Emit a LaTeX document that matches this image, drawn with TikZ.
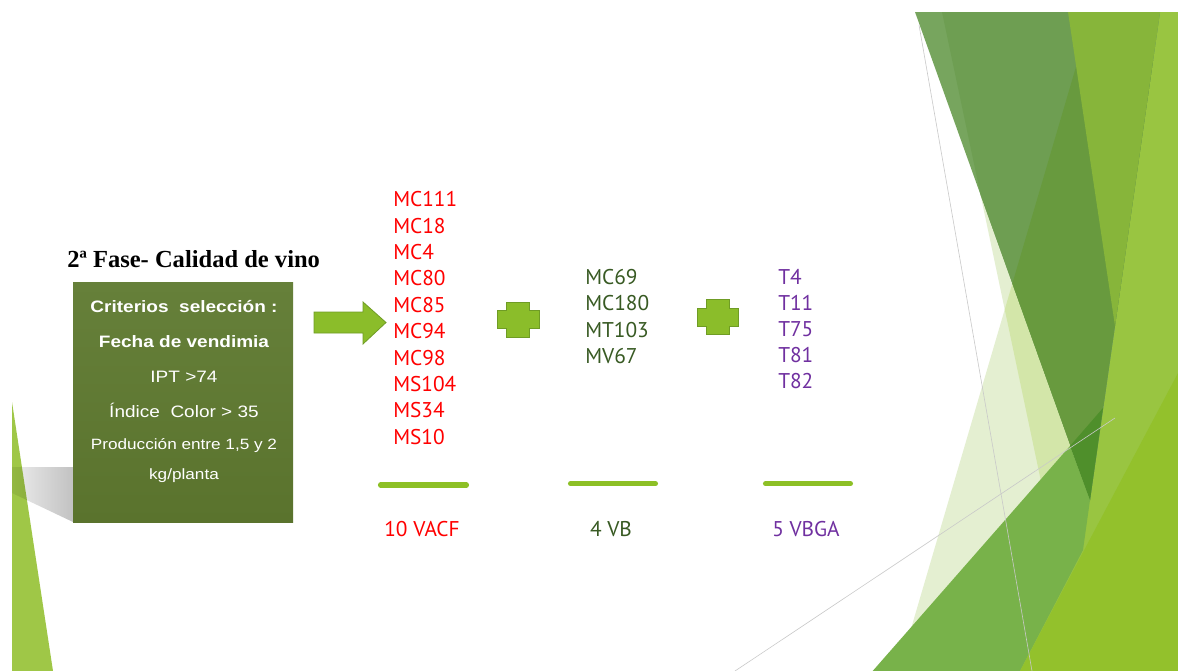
\documentclass[tikz,border=0pt]{standalone}
\usepackage{fontspec}
\setmainfont{Liberation Sans}
\newfontfamily\titlefont{Liberation Serif}
\newfontfamily\boxfont[FakeStretch=1.15]{Liberation Sans}
\newfontfamily\listfont{PT Sans}

% palette
\definecolor{paleA}{HTML}{E4EFD1}
\definecolor{paleB}{HTML}{D3E6A9}
\definecolor{lightR}{HTML}{99C541}
\definecolor{darkA}{HTML}{77A55E}
\definecolor{darkB}{HTML}{6E9E52}
\definecolor{darkC}{HTML}{689A3E}
\definecolor{yellowOv}{HTML}{87B53A}
\definecolor{darkest}{HTML}{4F8F2B}
\definecolor{band}{HTML}{78B24A}
\definecolor{bright}{HTML}{93C12C}
\definecolor{leftTri}{HTML}{9FC747}
\definecolor{boxTop}{HTML}{66803A}
\definecolor{boxBot}{HTML}{5A732D}
\definecolor{accent}{HTML}{8BBD2A}
\definecolor{accentEdge}{HTML}{6F9C25}
\definecolor{barGreen}{HTML}{8DC026}
\definecolor{redT}{HTML}{FF0000}
\definecolor{greenT}{HTML}{385A23}
\definecolor{purpleT}{HTML}{7030A0}
\definecolor{thinLine}{HTML}{C9C9C9}
\definecolor{shadeLight}{HTML}{ECECEC}
\definecolor{shadeDark}{HTML}{C2C2C2}

\tikzset{
  accentshape/.style={fill=accent, draw=accentEdge, line width=0.6pt, line join=miter},
  barline/.style={draw=barGreen, line width=3.8pt, line cap=round},
  boxtext/.style={text=white, anchor=base, inner sep=0pt, font=\boxfont\fontsize{12.4}{14}\selectfont},
  boxbold/.style={boxtext, font=\boxfont\fontsize{12.4}{14}\selectfont\bfseries},
  boxsmall/.style={boxtext, font=\boxfont\fontsize{11.2}{13}\selectfont},
  item/.style={anchor=base west, inner sep=0pt, font=\listfont\fontsize{16}{18}\selectfont},
  total/.style={anchor=base, inner sep=0pt, font=\listfont\fontsize{16}{18}\selectfont},
  guide/.style={draw=thinLine, line width=0.45pt}
}

\begin{document}
\begin{tikzpicture}[x=0.75pt,y=-0.75pt]
\useasboundingbox (0,0) rectangle (1178,671);
\fill[white] (0,0) rectangle (1178,671);

% ---------- right-hand facets ----------
\def\facetP{(942,12) -- (1085,690) -- (1178,690) -- (1178,12) -- cycle}
\def\facetQ{(1078,60) -- (893,690) -- (1178,690) -- (1178,60) -- cycle}
\def\facetD{(915,12) -- (1160,12) -- (1090,500) -- cycle}
\fill[paleA] \facetP;
\fill[paleA] \facetQ;
\begin{scope}
  \clip \facetQ;
  \fill[paleB] \facetP;
\end{scope}
\fill[lightR] (1068,12) -- (1178,12) -- (1178,690) -- (1010,690) -- (1090,500) -- (1115,326) -- cycle;
\fill[darkA] \facetD;
\begin{scope}
  \clip \facetP;
  \fill[darkB] \facetD;
  \clip \facetQ;
  \fill[darkC] \facetD;
\end{scope}
\fill[yellowOv] (1068,12) -- (1160,12) -- (1115,326) -- cycle;
\fill[band] (856,690) -- (1070,446) -- (1090,500) -- (1083,550) -- (1010,690) -- cycle;
\fill[darkest] (1070,446) -- (1103,408) -- (1090,500) -- cycle;
\fill[bright] (1178,373) -- (1010,690) -- (1178,690) -- cycle;
\draw[guide] (919,25) -- (1032,671);
\draw[guide] (735,671) -- (1115,418);

% ---------- left facet and the box shadow ----------
\fill[leftTri] (12,402) -- (53,671) -- (12,671) -- cycle;
\begin{scope}[blend mode=multiply]
  \shade[left color=shadeLight, right color=shadeDark]
    (12,467) -- (73,467) -- (73,522) -- (12,493) -- cycle;
\end{scope}

% ---------- title and criteria box ----------
\node[anchor=base west, inner sep=0pt, font=\titlefont\bfseries\fontsize{18.4}{22}\selectfont]
  (title) at (67,267) {2ª Fase- Calidad de vino};
\shade[top color=boxTop, bottom color=boxBot] (73,282) rectangle (293,522);
\node[boxbold] (c1) at (184,312) {Criterios\ \ selección :};
\node[boxbold] (c2) at (184,347) {Fecha de vendimia};
\node[boxtext] (c3) at (184,382) {IPT >74};
\node[boxtext] (c4) at (184,417) {Índice\ \ Color > 35};
\node[boxsmall] (c5) at (184,449) {Producción entre 1,5 y 2};
\node[boxsmall] (c6) at (184,479) {kg/planta};

% ---------- arrow and plus signs ----------
\path[accentshape] (314,312) -- (363,312) -- (363,302) -- (386,322.5) -- (363,344) -- (363,333) -- (314,333) -- cycle;
\path[accentshape] (506,302) -- (529,302) -- (529,310) -- (539,310) -- (539,328) -- (529,328) -- (529,337) -- (506,337) -- (506,328) -- (497,328) -- (497,310) -- (506,310) -- cycle;
\path[accentshape] (706,299) -- (729,299) -- (729,308) -- (738,308) -- (738,326) -- (729,326) -- (729,334) -- (706,334) -- (706,326) -- (697,326) -- (697,308) -- (706,308) -- cycle;

% ---------- clone lists ----------
\foreach \t [count=\i from 0] in {MC111,MC18,MC4,MC80,MC85,MC94,MC98,MS104,MS34,MS10}
  \node[item, text=redT] (r\i) at (393,206.7+26.4*\i) {\t};
\foreach \t [count=\i from 0] in {MC69,MC180,MT103,MV67}
  \node[item, text=greenT] (g\i) at (585,284+26.5*\i) {\t};
\foreach \t [count=\i from 0] in {T4,T11,T75,T81,T82}
  \node[item, text=purpleT] (p\i) at (778,284+26.2*\i) {\t};

% ---------- totals ----------
\coordinate (b1a) at (380.5,485);   \coordinate (b1b) at (466.5,485);
\coordinate (b2a) at (570.5,483.7); \coordinate (b2b) at (655.5,483.7);
\coordinate (b3a) at (765.5,483.7); \coordinate (b3b) at (850.5,483.7);
\draw[barline] (b1a) -- (b1b);
\draw[barline] (b2a) -- (b2b);
\draw[barline] (b3a) -- (b3b);
\node[total, text=redT] (t1) at (422,536) {10 VACF};
\node[total, text=greenT] (t2) at (611,536) {4 VB};
\node[total, text=purpleT] (t3) at (806,536) {5 VBGA};
\end{tikzpicture}
\end{document}
